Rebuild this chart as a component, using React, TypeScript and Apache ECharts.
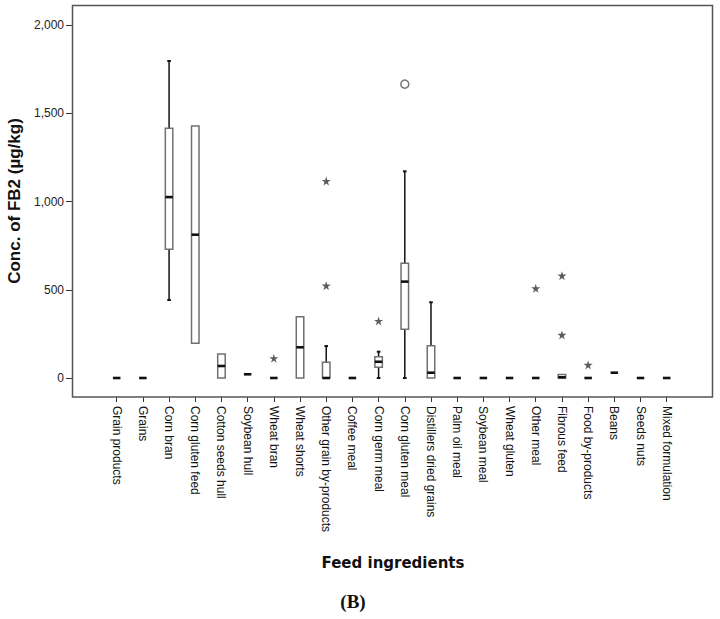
import React, { useEffect, useRef } from "react";
import * as echarts from "echarts";

const categories = [
  "Grain products", "Grains", "Corn bran", "Corn gluten feed", "Cotton seeds hull",
  "Soybean hull", "Wheat bran", "Wheat shorts", "Other grain by-products", "Coffee meal",
  "Corn germ meal", "Corn gluten meal", "Distillers dried grains", "Palm oil meal",
  "Soybean meal", "Wheat gluten", "Other meal", "Fibrous feed", "Food by-products",
  "Beans", "Seeds nuts", "Mixed formulation",
];

// five-number summaries per category: [min, q1, median, q3, max]
const lowWhisker = [0, 0, 442, 197, 0, 21, 0, 0, 0, 0, 0, 0, 0, 0, 0, 0, 0, 0, 0, 30, 0, 0];
const q1Values = [0, 0, 729, 197, 0, 21, 0, 0, 0, 0, 61, 276, 0, 0, 0, 0, 0, 0, 0, 30, 0, 0];
const medians = [0, 0, 1025, 812, 68, 21, 0, 174, 0, 0, 92, 546, 30, 0, 0, 0, 0, 4, 0, 30, 0, 0];
const q3Values = [0, 0, 1415, 1428, 136, 21, 0, 347, 89, 0, 121, 650, 183, 0, 0, 0, 0, 20, 0, 30, 0, 0];
const highWhisker = [0, 0, 1796, 1428, 136, 21, 0, 347, 181, 0, 149, 1171, 429, 0, 0, 0, 0, 20, 0, 30, 0, 0];

// extreme values (stars): [category index, value]
const extremeIdx = [6, 8, 8, 10, 16, 17, 17, 18];
const extremeVal = [112, 1116, 523, 323, 508, 580, 244, 74];
// outliers (circles)
const outlierIdx = [11];
const outlierVal = [1665];

const yTicks = [0, 500, 1000, 1500, 2000];

const STAR =
  "path://M50,0 L61.2,34.5 L97.6,34.5 L68.2,55.9 L79.4,90.5 L50,69.1 L20.6,90.5 L31.8,55.9 L2.4,34.5 L38.8,34.5 Z";

export default function App() {
  const ref = useRef<HTMLDivElement>(null);

  useEffect(() => {
    if (!ref.current) return;
    const chart = echarts.init(ref.current, null, { renderer: "svg" });

    const boxData = categories.map((_, i) => [
      i, lowWhisker[i], q1Values[i], medians[i], q3Values[i], highWhisker[i],
    ]);

    const option: any = {
      animation: false,
      backgroundColor: "#ffffff",
      grid: { left: 103.6, right: 40.2, top: 25, bottom: 241, containLabel: false },
      xAxis: {
        type: "category",
        data: categories,
        offset: 19,
        boundaryGap: true,
        axisLine: { show: false, onZero: false },
        axisTick: { show: true, alignWithLabel: true, length: 5, lineStyle: { color: "#333", width: 1 } },
        axisLabel: {
          interval: 0,
          rotate: -90,
          margin: 9,
          fontFamily: "Liberation Sans, Arial, sans-serif",
          fontSize: 12,
          color: "#111",
        },
        splitLine: { show: false },
      },
      yAxis: {
        type: "value",
        min: yTicks[0],
        max: yTicks[yTicks.length - 1],
        interval: 500,
        offset: 31.6,
        axisLine: { show: false, onZero: false },
        axisTick: { show: true, length: 6, lineStyle: { color: "#333", width: 1 } },
        axisLabel: {
          margin: 8,
          fontFamily: "Liberation Sans, Arial, sans-serif",
          fontSize: 12,
          color: "#222",
          formatter: (v: number) => v.toLocaleString("en-US"),
        },
        splitLine: { show: false },
      },
      graphic: [
        {
          type: "rect",
          shape: { x: 72.5, y: 5.5, width: 640, height: 391.5 },
          style: { fill: "none", stroke: "#555", lineWidth: 1.5 },
          z: 100,
        },
        {
          type: "text",
          x: 14,
          y: 201,
          rotation: Math.PI / 2,
          style: {
            text: "Conc. of FB2 (µg/kg)",
            font: "bold 17px 'Liberation Sans', Arial, sans-serif",
            fill: "#111",
            textAlign: "center",
            textVerticalAlign: "middle",
          },
        },
        {
          type: "text",
          x: 393,
          y: 563,
          style: {
            text: "Feed ingredients",
            font: "bold 15px 'DejaVu Sans', Verdana, sans-serif",
            fill: "#111",
            textAlign: "center",
            textVerticalAlign: "middle",
          },
        },
        {
          type: "text",
          x: 353,
          y: 601,
          style: {
            text: "(B)",
            font: "bold 19px 'Liberation Serif', 'Times New Roman', serif",
            fill: "#111",
            textAlign: "center",
            textVerticalAlign: "middle",
          },
        },
      ],
      series: [
        {
          type: "custom",
          data: boxData,
          encode: { x: 0, y: [1, 2, 3, 4, 5] },
          clip: false,
          renderItem: (params: any, api: any) => {
            const idx = api.value(0);
            const lo = api.coord([idx, api.value(1)]);
            const q1 = api.coord([idx, api.value(2)]);
            const md = api.coord([idx, api.value(3)]);
            const q3 = api.coord([idx, api.value(4)]);
            const hi = api.coord([idx, api.value(5)]);
            const cx = lo[0];
            const w = 7.5;
            const children: any[] = [];
            const wStyle = { stroke: "#111", lineWidth: 1.5 };
            if (hi[1] < q3[1] - 0.5) {
              children.push({ type: "line", shape: { x1: cx, y1: q3[1], x2: cx, y2: hi[1] }, style: wStyle });
              children.push({ type: "line", shape: { x1: cx - 1.8, y1: hi[1], x2: cx + 1.8, y2: hi[1] }, style: { stroke: "#111", lineWidth: 2 } });
            }
            if (lo[1] > q1[1] + 0.5) {
              children.push({ type: "line", shape: { x1: cx, y1: q1[1], x2: cx, y2: lo[1] }, style: wStyle });
              children.push({ type: "line", shape: { x1: cx - 1.8, y1: lo[1], x2: cx + 1.8, y2: lo[1] }, style: { stroke: "#111", lineWidth: 2 } });
            }
            if (q1[1] - q3[1] > 1) {
              children.push({
                type: "rect",
                shape: { x: cx - w / 2, y: q3[1], width: w, height: q1[1] - q3[1] },
                style: { fill: "#ffffff", stroke: "#707070", lineWidth: 1.5 },
              });
            }
            children.push({
              type: "line",
              shape: { x1: cx - w / 2, y1: md[1], x2: cx + w / 2, y2: md[1] },
              style: { stroke: "#111", lineWidth: 2.6 },
            });
            return { type: "group", children };
          },
        },
        {
          type: "scatter",
          data: extremeIdx.map((c, i) => [c, extremeVal[i]]),
          symbol: STAR,
          symbolSize: 9,
          itemStyle: { color: "#333" },
          z: 5,
        },
        {
          type: "scatter",
          data: outlierIdx.map((c, i) => [c, outlierVal[i]]),
          symbol: "circle",
          symbolSize: 8,
          itemStyle: { color: "#ffffff", borderColor: "#555", borderWidth: 1.5 },
          z: 5,
        },
      ],
    };

    chart.setOption(option);
    return () => chart.dispose();
  }, []);

  return (
    <div
      ref={ref}
      style={{ position: "fixed", left: 0, top: 0, width: 720, height: 619, background: "#fff" }}
    />
  );
}
